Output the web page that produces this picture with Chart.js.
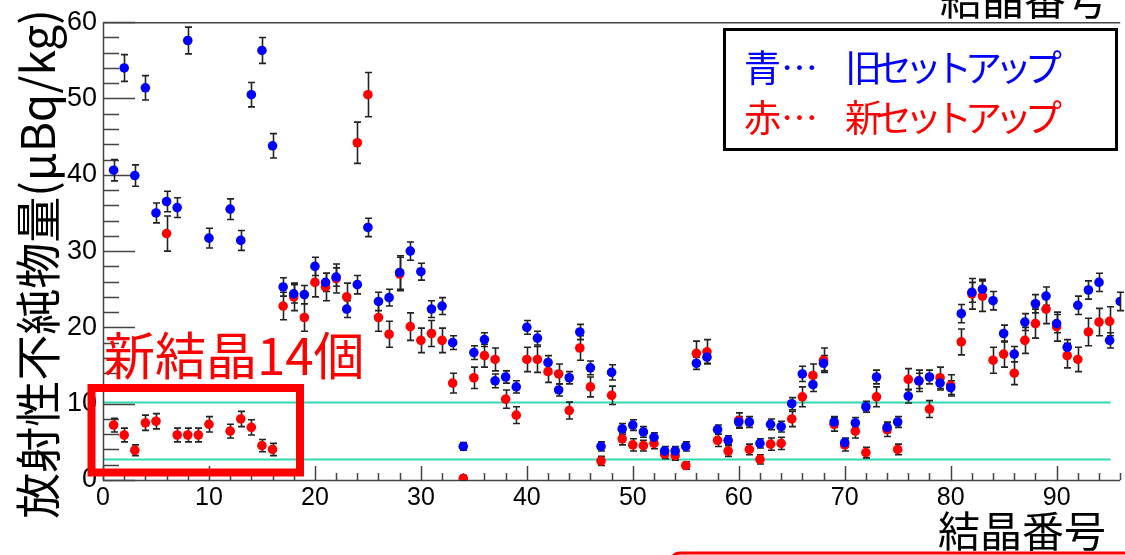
<!DOCTYPE html>
<html>
<head>
<meta charset="utf-8">
<script src="https://cdn.jsdelivr.net/npm/chart.js@4.4.0/dist/chart.umd.min.js"></script>
<style>
  html, body { margin: 0; padding: 0; background: #fff; }
  #wrap { width: 1125px; height: 555px; position: relative; }
</style>
</head>
<body>
<div id="wrap"><canvas id="chart" width="1125" height="555"></canvas></div>
<script>
// crystal numbers and values
const blueCrystals = [1,2,3,4,5,6,7,8,10,12,13,14,15,16,17,18,19,20,21,22,23,24,25,26,27,28,29,30,31,32,33,34,35,36,37,38,39,40,41,42,43,44,45,46,47,48,49,50,51,52,53,54,55,56,57,58,59,60,61,62,63,64,65,66,67,68,69,70,71,72,73,74,75,76,77,78,79,80,81,82,83,84,85,86,87,88,89,90,91,92,93,94,95,96];
const blueValues = [40.6,54.0,39.9,51.4,35.0,36.5,35.7,57.6,31.7,35.5,31.4,50.5,56.3,43.8,25.3,24.4,24.3,28.0,25.9,26.6,22.4,25.6,33.1,23.4,23.9,27.2,30.0,27.3,22.4,22.8,18.0,4.4,16.7,18.4,13.0,13.5,12.2,20.0,18.6,15.4,11.8,13.4,19.4,14.7,4.4,14.1,6.7,7.2,6.3,5.6,3.8,3.8,4.4,15.3,16.1,6.6,5.2,7.6,7.6,4.8,7.3,7.0,10.0,13.9,12.5,15.3,7.6,4.9,7.5,9.6,13.5,6.9,7.6,11.0,13.0,13.5,12.7,12.1,21.8,24.6,25.0,23.5,19.2,16.5,20.7,23.1,24.1,20.5,17.4,22.9,24.9,25.9,18.3,23.4];
const blueErrors = [1.4,1.75,1.4,1.6,1.3,1.35,1.3,1.75,1.3,1.35,1.3,1.6,1.7,1.6,1.2,1.2,1.2,1.2,1.2,1.2,1.1,1.2,1.2,1.2,1.1,2.2,1.2,1.1,1.1,1.1,0.9,0.5,0.9,0.9,0.9,0.8,0.8,0.9,0.9,0.9,0.8,0.8,1.0,0.9,0.6,1.0,0.7,0.7,0.7,0.6,0.6,0.6,0.6,0.8,0.8,0.6,0.6,0.7,0.7,0.6,0.7,0.7,0.8,1.0,0.9,1.0,0.7,0.6,0.7,0.7,0.9,0.7,0.7,0.9,1.0,0.9,0.9,0.9,1.2,1.3,1.3,1.2,1.1,1.0,1.1,1.2,1.2,1.2,1.0,1.2,1.2,1.2,1.0,1.2];

const redCrystals = [1,2,3,4,5,6,7,8,9,10,12,13,14,15,16,17,18,19,20,21,22,23,24,25,26,27,28,29,30,31,32,33,34,35,36,37,38,39,40,41,42,43,44,45,46,47,48,49,50,51,52,53,54,55,56,57,58,59,60,61,62,63,64,65,66,67,68,69,70,71,72,73,74,75,76,77,78,79,80,81,82,83,84,85,86,87,88,89,90,91,92,93,94,95];
const redValues = [7.2,5.9,3.9,7.5,7.7,32.3,5.9,5.9,5.9,7.3,6.4,8.0,6.9,4.5,4.0,22.8,24.0,21.3,25.9,25.3,26.4,24.0,44.2,50.5,21.3,19.1,27.0,20.1,18.3,19.2,18.3,12.7,0.2,13.4,16.3,15.8,10.6,8.5,15.8,15.8,14.2,13.9,9.1,17.3,12.2,2.5,11.1,5.4,4.6,4.5,4.8,3.4,3.2,1.9,16.6,16.8,5.2,3.8,7.8,4.0,2.7,4.7,4.8,8.0,10.9,13.7,15.7,7.3,4.6,6.4,3.6,10.9,6.6,4.0,13.2,13.0,9.3,13.4,12.4,18.1,24.4,24.1,15.7,16.5,14.0,18.3,20.5,22.4,20.1,16.3,15.8,19.4,20.7,20.8];
const redErrors = [0.9,0.9,0.7,1.0,1.0,2.3,0.9,0.9,0.9,1.0,0.9,1.0,1.0,0.8,0.8,1.8,1.8,1.8,1.9,1.8,1.9,1.8,2.7,2.9,1.8,1.7,2.2,1.8,1.6,1.7,1.6,1.3,0.4,1.4,1.5,1.5,1.2,1.1,1.6,1.7,1.4,1.3,1.1,1.6,1.3,0.6,1.2,0.8,0.8,0.7,0.7,0.6,0.6,0.5,1.6,1.6,0.8,0.7,1.0,0.7,0.6,0.8,0.8,1.0,1.3,1.5,1.6,0.9,0.8,0.9,0.7,1.3,0.9,0.7,1.4,1.4,1.1,1.4,1.4,1.7,2.0,2.0,1.7,1.7,1.5,1.7,1.9,1.9,1.9,1.6,1.6,1.8,1.8,1.9];

const limitLines = [10.2, 2.7];
const xTicks = [0, 10, 20, 30, 40, 50, 60, 70, 80, 90];
const yTicks = [0, 10, 20, 30, 40, 50, 60];

const legendLines = [
  { mark: '青…', text: '旧セットアップ', color: '#0000ff' },
  { mark: '赤…', text: '新セットアップ', color: '#ff0000' },
];

const toPoints = (xs, ys) => xs.map((c, i) => ({ x: c, y: ys[i] }));

const numFont = '"Liberation Sans", Arial, sans-serif';
const jpFont = '"Noto Sans CJK JP", sans-serif';

// ROOT-like frame, inward ticks, error bars and limit lines
const rootStyle = {
  id: 'rootStyle',
  beforeDatasetsDraw(chart) {
    const { ctx, chartArea: a, scales: { x, y } } = chart;
    ctx.save();

    // limit lines
    ctx.strokeStyle = '#33d9b0';
    ctx.lineWidth = 2;
    limitLines.forEach(v => {
      const py = Math.round(y.getPixelForValue(v)) + 0.5;
      ctx.beginPath();
      ctx.moveTo(a.left + 1, py);
      ctx.lineTo(x.getPixelForValue(95.1), py);
      ctx.stroke();
    });

    // frame
    ctx.strokeStyle = '#444';
    ctx.lineWidth = 1.5;
    ctx.beginPath();
    ctx.moveTo(a.left + 0.5, a.top + 0.5);
    ctx.lineTo(a.right, a.top + 0.5);
    ctx.moveTo(a.left + 0.5, a.top);
    ctx.lineTo(a.left + 0.5, a.bottom + 0.5);
    ctx.lineTo(a.right, a.bottom + 0.5);
    ctx.stroke();

    // ticks (inside)
    ctx.beginPath();
    for (let v = 0; v <= 60; v += 2) {
      const py = Math.round(y.getPixelForValue(v)) + 0.5;
      const len = v % 10 === 0 ? 32 : 16;
      ctx.moveTo(a.left, py);
      ctx.lineTo(a.left + len, py);
    }
    for (let v = 0; v <= 96; v += 2) {
      const px = Math.round(x.getPixelForValue(v)) + 0.5;
      const len = v % 10 === 0 ? 14 : 7;
      ctx.moveTo(px, a.bottom);
      ctx.lineTo(px, a.bottom - len);
    }
    ctx.stroke();

    // error bars
    ctx.strokeStyle = '#222';
    ctx.lineWidth = 1.6;
    chart.data.datasets.forEach(ds => {
      ds.data.forEach((p, i) => {
        const px = Math.round(x.getPixelForValue(p.x)) + 0.5;
        const top = y.getPixelForValue(p.y + ds.errors[i]);
        const bot = y.getPixelForValue(Math.max(0, p.y - ds.errors[i]));
        ctx.beginPath();
        ctx.moveTo(px, top);
        ctx.lineTo(px, bot);
        ctx.moveTo(px - 3.5, top);
        ctx.lineTo(px + 3.5, top);
        ctx.moveTo(px - 3.5, bot);
        ctx.lineTo(px + 3.5, bot);
        ctx.stroke();
      });
    });
    ctx.restore();
  },
  afterDraw(chart) {
    const { ctx } = chart;
    ctx.save();

    // axis titles
    ctx.fillStyle = '#000';
    ctx.font = '42px ' + jpFont;
    ctx.textAlign = 'right';
    ctx.textBaseline = 'middle';
    ctx.fillText('結晶番号', 1106, 531);
    ctx.fillText('結晶番号', 1108, -1);

    ctx.save();
    ctx.translate(38, 264);
    ctx.rotate(-Math.PI / 2);
    ctx.textAlign = 'center';
    ctx.font = '46px ' + jpFont;
    ctx.fillText('放射性不純物量(μBq/kg)', 0, 0);
    ctx.restore();

    // new crystals annotation
    ctx.strokeStyle = '#ff0000';
    ctx.lineWidth = 8;
    ctx.strokeRect(91.5, 388, 208.5, 84.5);
    ctx.fillStyle = '#ff0000';
    ctx.textAlign = 'left';
    ctx.font = '51px ' + jpFont;
    ctx.fillText('新結晶14個', 104, 356);

    // legend box
    ctx.fillStyle = '#fff';
    ctx.fillRect(723, 28, 394, 122);
    ctx.strokeStyle = '#000';
    ctx.lineWidth = 3;
    ctx.strokeRect(724.5, 29.5, 392, 120);
    ctx.font = '37px ' + jpFont;
    legendLines.forEach((l, i) => {
      const ly = 68 + i * 50;
      ctx.fillStyle = l.color;
      ctx.letterSpacing = '0px';
      ctx.fillText(l.mark, 744, ly);
      ctx.letterSpacing = '-7px';
      ctx.fillText(l.text, 845, ly);
    });
    ctx.letterSpacing = '0px';

    // edge of the red box below the plot
    ctx.strokeStyle = '#ff0000';
    ctx.lineWidth = 3;
    ctx.beginPath();
    ctx.roundRect(670, 553, 480, 30, 10);
    ctx.stroke();

    ctx.restore();
  }
};

const ctx = document.getElementById('chart');
new Chart(ctx, {
  type: 'scatter',
  data: {
    datasets: [
      {
        label: '旧セットアップ',
        data: toPoints(blueCrystals, blueValues),
        errors: blueErrors,
        backgroundColor: '#0000ff',
        borderWidth: 0,
        pointRadius: 4.8,
      },
      {
        label: '新セットアップ',
        data: toPoints(redCrystals, redValues),
        errors: redErrors,
        backgroundColor: '#ff0000',
        borderWidth: 0,
        pointRadius: 4.8,
      },
    ]
  },
  options: {
    responsive: false,
    animation: false,
    devicePixelRatio: 1,
    layout: { padding: { top: 22, left: 0, right: 0, bottom: 0 } },
    plugins: {
      legend: { display: false },
      tooltip: { enabled: false },
    },
    scales: {
      x: {
        type: 'linear',
        min: 0,
        max: 96,
        afterBuildTicks: (scale) => { scale.ticks = xTicks.map(v => ({ value: v })); },
        afterFit: (scale) => { scale.height = 75; },
        grid: { display: false, drawTicks: false },
        border: { display: false },
        ticks: {
          color: '#000',
          padding: 3,
          maxRotation: 0,
          font: { family: numFont, size: 25 },
        }
      },
      y: {
        min: 0,
        max: 60,
        afterBuildTicks: (scale) => { scale.ticks = yTicks.map(v => ({ value: v })); },
        afterFit: (scale) => { scale.width = 103; },
        grid: { display: false, drawTicks: false },
        border: { display: false },
        ticks: {
          color: '#000',
          padding: 6,
          font: { family: numFont, size: 27 },
        }
      }
    }
  },
  plugins: [rootStyle]
});
</script>
</body>
</html>
